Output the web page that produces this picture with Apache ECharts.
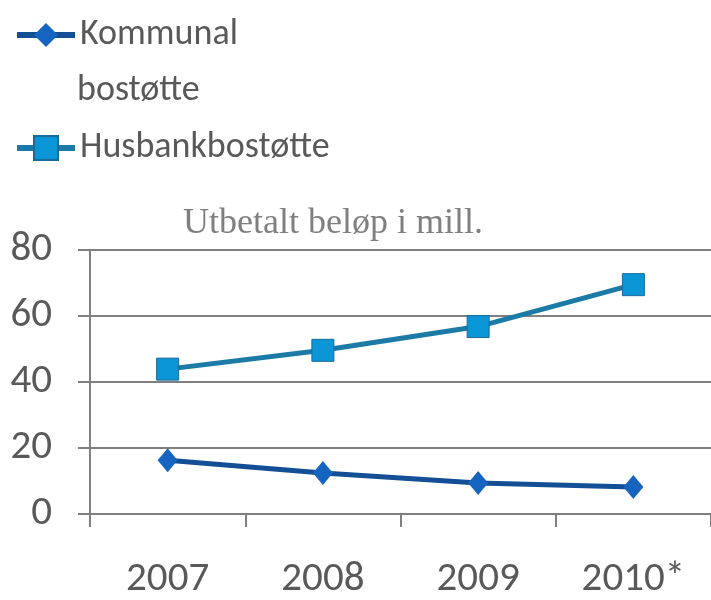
<!DOCTYPE html>
<html><head><meta charset="utf-8">
<script src="https://cdn.jsdelivr.net/npm/echarts@6/dist/echarts.min.js"></script>
<style>html,body{margin:0;padding:0;background:#fff}#c{width:711px;height:600px}</style>
</head><body><div id="c"></div>
<script>
const categories = ['2007', '2008', '2009', '2010*'];
const kommunal = [16.3, 12.4, 9.4, 8.2];
const husbank = [43.9, 49.6, 56.8, 69.5];
const seriesNames = ['Kommunal bostøtte', 'Husbankbostøtte'];
const yTicks = [0, 20, 40, 60, 80];

const chart = echarts.init(document.getElementById('c'), null, {renderer: 'canvas'});
const lblFont = 'Carlito, "Open Sans", "Noto Sans", sans-serif';
chart.setOption({
  animation: false,
  title: {
    text: 'Utbetalt beløp i mill.',
    left: 178, top: 201,
    textStyle: {fontFamily: '"Liberation Serif", "DejaVu Serif", serif', fontWeight: 'normal', fontSize: 36, color: '#7f7f7f'}
  },
  legend: [{
    data: [seriesNames[0]], orient: 'vertical', left: 9, top: 12,
    itemWidth: 58, itemHeight: 30, itemGap: 0,
    lineStyle: {width: 6},
    formatter: () => 'Kommunal',
    textStyle: {fontFamily: lblFont, fontSize: 36, color: '#595959', padding: [0, 0, 0, 0]}
  }, {
    data: [seriesNames[1]], orient: 'vertical', left: 9, top: 125,
    itemWidth: 58, itemHeight: 30, itemGap: 0,
    lineStyle: {width: 6},
    textStyle: {fontFamily: lblFont, fontSize: 36, color: '#595959', padding: [0, 0, 0, 0]}
  }],
  graphic: [{
    type: 'text', left: 77, top: 73,
    style: {text: 'bostøtte', font: '36px ' + lblFont, fill: '#595959'}
  }],
  grid: {left: 90, right: -8, top: 250, bottom: 82, containLabel: false},
  xAxis: {
    type: 'category', data: categories, boundaryGap: true,
    axisLine: {lineStyle: {color: '#808080', width: 2}},
    axisTick: {show: true, length: 13, lineStyle: {color: '#808080', width: 2}},
    axisLabel: {fontFamily: lblFont, fontSize: 41, color: '#595959', margin: 45}
  },
  yAxis: {
    type: 'value', min: yTicks[0], max: yTicks[yTicks.length - 1], interval: 20,
    axisLine: {show: true, lineStyle: {color: '#808080', width: 2}},
    axisTick: {show: true, length: 12, lineStyle: {color: '#808080', width: 2}},
    splitLine: {lineStyle: {color: '#808080', width: 2}},
    axisLabel: {fontFamily: lblFont, fontSize: 41, color: '#595959', margin: 38}
  },
  series: [{
    name: seriesNames[0], type: 'line', data: kommunal,
    symbol: 'diamond', symbolSize: [20, 24],
    lineStyle: {color: '#144f96', width: 5},
    itemStyle: {color: '#1565c0', borderColor: '#1565c0', borderWidth: 0}
  }, {
    name: seriesNames[1], type: 'line', data: husbank,
    symbol: 'rect', symbolSize: 22,
    lineStyle: {color: '#1c7ba6', width: 5},
    itemStyle: {color: '#0a96d6', borderColor: '#1a6a9a', borderWidth: 1}
  }]
});
</script></body></html>
